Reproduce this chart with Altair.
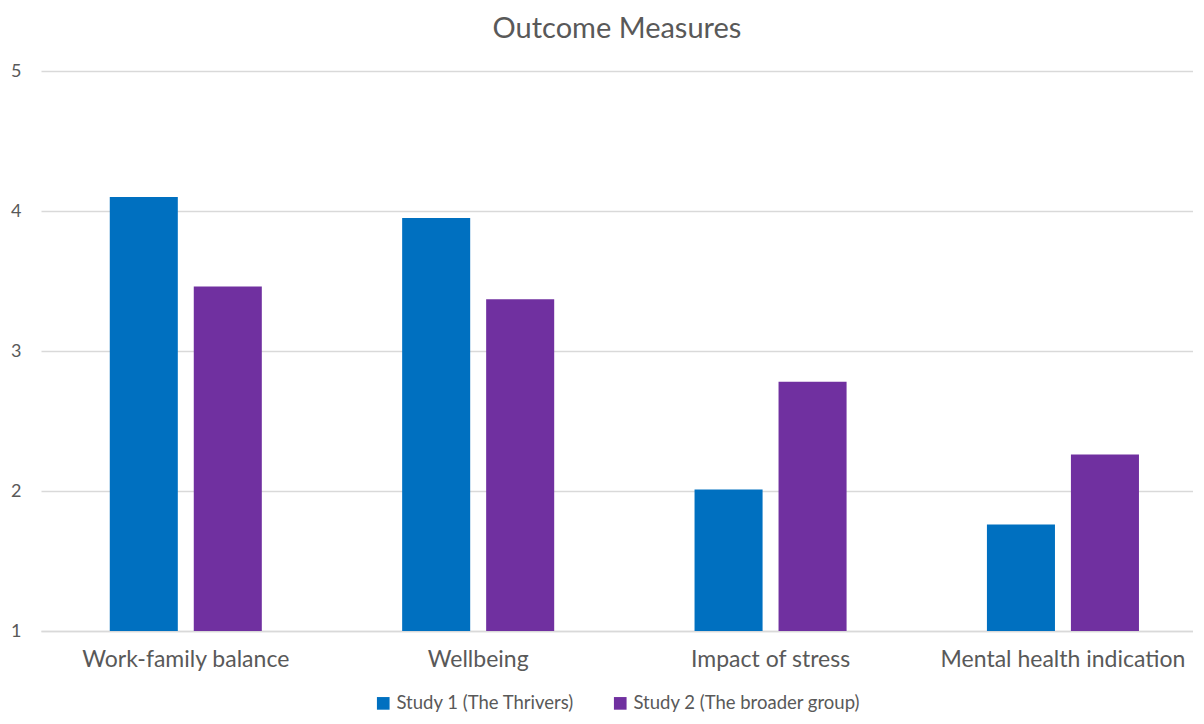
import altair as alt
import pandas as pd

categories = ["Work-family balance", "Wellbeing", "Impact of stress", "Mental health indication"]
series = ["Study 1 (The Thrivers)", "Study 2 (The broader group)"]
study1 = [4.1, 3.95, 2.01, 1.76]
study2 = [3.46, 3.37, 2.78, 2.26]
y_ticks = [1, 2, 3, 4, 5]
colors = ["#0070C0", "#7030A0"]

rows = []
for c, v1, v2 in zip(categories, study1, study2):
    rows.append({"category": c, "series": series[0], "value": v1})
    rows.append({"category": c, "series": series[1], "value": v2})
df = pd.DataFrame(rows)

FONT = "Lato"
GREY = "#595959"

chart = alt.Chart(df).mark_bar().encode(
    x=alt.X("category:N", sort=categories,
            scale=alt.Scale(paddingInner=0.48, paddingOuter=0.21, align=0.56),
            axis=alt.Axis(title=None, labelAngle=0, labelFontSize=23, labelColor=GREY,
                          labelFont=FONT, labelPadding=17, labelLimit=0, ticks=False,
                          domain=True, domainColor="#d9d9d9", domainWidth=1.5)),
    xOffset=alt.XOffset("series:N", sort=series,
                        scale=alt.Scale(paddingInner=0.19, paddingOuter=0)),
    y=alt.Y("value:Q", scale=alt.Scale(domain=[1, 5], zero=False, nice=False),
            axis=alt.Axis(title=None, values=y_ticks, format="d", labelFontSize=18,
                          labelColor=GREY, labelFont=FONT, labelPadding=20, ticks=False,
                          domain=False, gridColor="#d9d9d9", gridWidth=1.5)),
    y2=alt.Y2(datum=1),
    color=alt.Color("series:N", sort=series,
                    scale=alt.Scale(domain=series, range=colors),
                    legend=alt.Legend(title=None, orient="none", direction="horizontal",
                                      legendX=333, legendY=623, symbolType="square",
                                      symbolSize=160, symbolStrokeWidth=0,
                                      labelFontSize=18.5, labelColor=GREY, labelFont=FONT,
                                      labelLimit=0, columnPadding=36, labelOffset=4)),
).properties(
    width=1152,
    height=560,
    title=alt.TitleParams("Outcome Measures", fontSize=29, font=FONT, color=GREY,
                          fontWeight="normal", anchor="middle", offset=18),
    padding={"left": 2, "top": 7, "right": 0, "bottom": 0},
).configure_view(stroke=None)

chart.save("out.html", embed_options={"renderer": "svg", "actions": False})
